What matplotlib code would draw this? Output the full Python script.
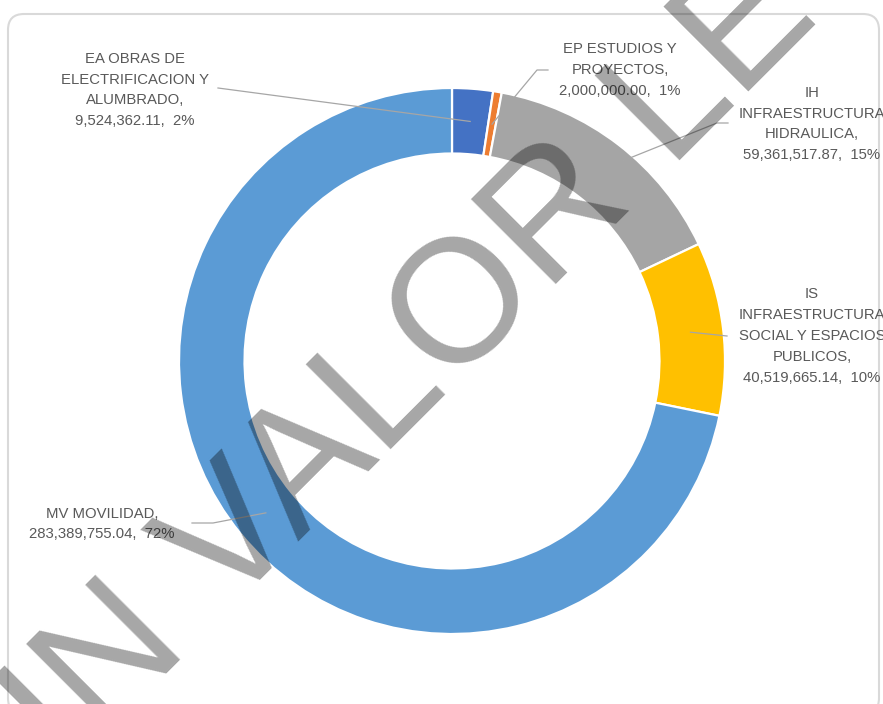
import matplotlib.pyplot as plt
import numpy as np
from matplotlib.patches import FancyBboxPatch

categories = ["EA OBRAS DE\nELECTRIFICACION Y\nALUMBRADO",
              "EP ESTUDIOS Y\nPROYECTOS",
              "IH\nINFRAESTRUCTURA\nHIDRAULICA",
              "IS\nINFRAESTRUCTURA\nSOCIAL Y ESPACIOS\nPUBLICOS",
              "MV MOVILIDAD"]
values = [9524362.11, 2000000.00, 59361517.87, 40519665.14, 283389755.04]
colors = ['#4472C4', '#ED7D31', '#A5A5A5', '#FFC000', '#5B9BD5']
watermark = "SIN VALOR LEGAL"

W, H = 883, 704
cx, cy, R = 452, 361, 273

def px(x, y):
    # image pixels -> pie data coords
    return (x - cx) / R, (cy - y) / R

fig = plt.figure(figsize=(W / 100, H / 100), dpi=100)

# outer frame
bg = fig.add_axes([0, 0, 1, 1])
bg.set_xlim(0, W)
bg.set_ylim(H, 0)
bg.axis('off')
bg.add_patch(FancyBboxPatch((8, 14), 871, 700, boxstyle="round,pad=0,rounding_size=16",
                            fc='white', ec='#D9D9D9', lw=1.5))

ax = fig.add_axes([(cx - R) / W, 1 - (cy + R) / H, 2 * R / W, 2 * R / H])
ax.pie(values, colors=colors, startangle=90, counterclock=False, radius=1,
       wedgeprops=dict(width=0.24, edgecolor='white', linewidth=1.6))
ax.set_xlim(-1, 1)
ax.set_ylim(-1, 1)
ax.axis('off')

total = sum(values)
frac = np.array(values) / total
mids = 90 - 360 * (np.cumsum(frac) - frac / 2)

# label centres and leader start/knee points (pixels)
label_pos = [(135, 90), (620, 70), (812, 124), (812, 336), (102, 524)]
leader_pts = [[(218, 88)],
              [(548, 70), (537, 70)],
              [(728, 123), (717, 123)],
              [(727, 336)],
              [(192, 523), (213, 523)]]

for cat, v, f, m, lp, pts in zip(categories, values, frac, mids, label_pos, leader_pts):
    txt = f"{cat},\n{v:,.2f},  {f * 100:.0f}%"
    tx, ty = px(*lp)
    ax.text(tx, ty, txt, ha='center', va='center', multialignment='center',
            fontsize=10.7, family='Liberation Sans', color='#595959', linespacing=1.62)
    xs = [px(*p)[0] for p in pts] + [0.88 * np.cos(np.radians(m))]
    ys = [px(*p)[1] for p in pts] + [0.88 * np.sin(np.radians(m))]
    ax.plot(xs, ys, color='#A6A6A6', lw=0.9, clip_on=False)

fig.text(527 / W, 1 - 313 / H, watermark, rotation=45, rotation_mode='anchor',
         ha='center', va='baseline', fontsize=126, family='Liberation Sans',
         color='black', alpha=0.35, zorder=10)

fig.savefig('out.png', dpi=100)
